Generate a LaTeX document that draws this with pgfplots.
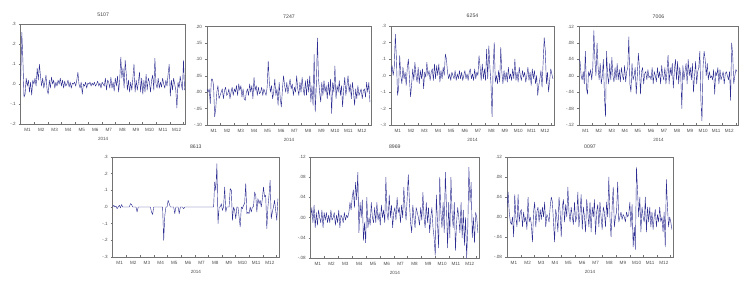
\documentclass[border=0pt]{standalone}
\usepackage{pgfplots}
\usepackage{pgfplotstable}
\pgfplotsset{compat=1.18}
\usepackage{fontspec}
\setmainfont{Liberation Sans}
\definecolor{evline}{RGB}{45,45,145}

\pgfplotstableread[row sep=\\]{y\\
0.02\\0.26\\0.12\\-0.065\\-0.05\\0.03\\-0.01\\0.02\\-0.04\\0.01\\-0.055\\0.02\\0.00\\
0.03\\-0.01\\0.08\\0.02\\0.1\\0.04\\-0.01\\0.03\\-0.02\\0.01\\0.045\\-0.03\\
-0.05\\0.02\\-0.02\\0.035\\0.00\\0.02\\-0.02\\0.01\\-0.01\\0.02\\0.0\\0.03\\-0.01\\
0.02\\-0.02\\0.015\\-0.01\\0.0\\0.02\\-0.015\\0.01\\-0.02\\0.005\\0.0\\0.01\\
-0.01\\0.02\\0.06\\0.0\\-0.02\\0.01\\-0.05\\0.0\\-0.01\\0.01\\-0.02\\0.005\\0.0\\
0.01\\-0.01\\0.005\\-0.005\\0.01\\-0.01\\0.0\\0.015\\-0.01\\0.005\\-0.02\\0.01\\
0.0\\-0.01\\0.03\\-0.03\\0.02\\0.01\\-0.02\\0.035\\-0.02\\0.01\\-0.035\\0.03\\-0.01\\
0.04\\-0.04\\0.02\\0.135\\0.03\\0.08\\-0.02\\0.12\\0.05\\-0.03\\0.02\\-0.04\\
0.01\\-0.03\\0.03\\0.1\\-0.04\\0.02\\-0.03\\0.01\\0.06\\-0.04\\0.03\\-0.05\\0.02\\
-0.04\\0.05\\-0.03\\0.03\\0.01\\-0.04\\0.02\\0.045\\-0.03\\0.13\\0.0\\-0.02\\
0.03\\-0.02\\0.01\\-0.015\\0.03\\0.0\\-0.02\\0.02\\-0.01\\0.05\\0.1\\-0.06\\0.02\\
-0.03\\0.03\\0.0\\-0.03\\-0.12\\0.01\\-0.02\\0.04\\0.0\\-0.03\\0.12\\-0.03\\
}\tA

\pgfplotstableread[row sep=\\]{y\\
0.01\\0.0\\0.01\\-0.035\\0.04\\0.04\\0.02\\-0.075\\-0.05\\0.0\\0.02\\-0.02\\-0.01\\
0.0\\0.01\\-0.02\\0.005\\0.015\\-0.01\\-0.005\\0.01\\-0.02\\0.0\\0.015\\-0.01\\
0.01\\0.0\\0.02\\-0.01\\0.025\\0.005\\0.02\\-0.015\\0.01\\-0.02\\-0.025\\0.0\\0.01\\
-0.01\\0.025\\0.0\\0.02\\-0.02\\0.045\\0.005\\0.02\\-0.01\\0.015\\-0.005\\0.0\\
0.015\\-0.01\\0.01\\0.0\\-0.01\\0.015\\0.095\\0.03\\0.0\\0.02\\-0.02\\0.0\\0.04\\
-0.01\\0.01\\-0.04\\0.03\\-0.02\\-0.045\\0.01\\0.05\\0.02\\0.0\\0.03\\-0.005\\
0.02\\0.04\\0.01\\0.025\\-0.01\\0.015\\0.0\\0.05\\0.01\\-0.01\\0.03\\0.0\\0.045\\
0.01\\-0.01\\0.035\\-0.01\\0.04\\0.0\\0.05\\-0.03\\0.02\\-0.04\\0.115\\-0.06\\
0.02\\0.165\\0.04\\0.0\\-0.03\\0.03\\-0.01\\0.035\\0.0\\0.02\\-0.02\\0.03\\-0.01\\
0.04\\-0.065\\0.03\\0.0\\0.08\\-0.02\\0.02\\0.0\\0.035\\-0.01\\0.02\\-0.045\\
0.01\\0.045\\-0.01\\0.02\\0.05\\0.0\\0.025\\-0.02\\0.03\\0.0\\-0.04\\0.01\\-0.02\\
0.02\\-0.01\\0.0\\0.01\\-0.02\\0.005\\0.01\\-0.015\\0.03\\0.0\\0.03\\-0.03\\
}\tB

\pgfplotstableread[row sep=\\]{y\\
0.02\\0.06\\0.0\\0.05\\0.25\\0.1\\-0.12\\-0.08\\0.12\\0.0\\-0.05\\0.05\\-0.02\\
0.02\\-0.06\\0.05\\0.1\\-0.02\\-0.13\\-0.05\\0.04\\-0.03\\0.08\\0.0\\-0.04\\
0.05\\-0.05\\0.03\\-0.02\\0.04\\-0.08\\0.02\\-0.01\\0.08\\0.0\\0.03\\-0.03\\0.02\\
0.04\\-0.03\\0.07\\-0.02\\0.06\\0.0\\0.07\\-0.04\\0.03\\-0.02\\0.05\\0.0\\
0.13\\0.1\\0.02\\-0.02\\0.01\\-0.03\\0.02\\0.0\\-0.02\\0.03\\-0.03\\0.01\\-0.02\\
0.03\\-0.02\\0.02\\-0.03\\0.0\\0.03\\-0.02\\0.01\\-0.03\\0.02\\0.04\\-0.02\\
0.01\\-0.03\\0.04\\-0.02\\0.02\\0.0\\0.12\\0.05\\-0.03\\0.07\\-0.02\\0.04\\-0.03\\
0.16\\-0.02\\0.18\\0.05\\-0.05\\-0.25\\0.05\\0.2\\-0.04\\0.0\\-0.05\\0.03\\
-0.04\\0.17\\0.02\\-0.05\\0.03\\-0.03\\0.02\\-0.04\\0.05\\-0.02\\0.01\\-0.03\\0.04\\
-0.02\\0.1\\-0.03\\0.02\\-0.04\\0.05\\0.0\\-0.03\\0.03\\-0.01\\0.02\\-0.04\\
0.0\\0.05\\-0.03\\0.02\\-0.06\\0.04\\-0.02\\0.03\\-0.05\\0.0\\-0.12\\-0.06\\-0.02\\
0.03\\-0.07\\0.08\\0.23\\0.15\\-0.05\\0.02\\-0.1\\-0.03\\0.04\\0.01\\-0.02\\
}\tC

\pgfplotstableread[row sep=\\]{y\\
0.04\\0.035\\0.0\\-0.01\\0.01\\-0.02\\0.06\\-0.03\\-0.045\\0.01\\0.0\\0.015\\-0.01\\
0.02\\0.11\\0.04\\0.0\\0.08\\0.02\\-0.01\\0.03\\-0.02\\0.0\\0.04\\-0.05\\
-0.1\\0.06\\0.0\\-0.02\\0.03\\-0.01\\0.045\\0.0\\-0.015\\0.02\\-0.01\\0.03\\-0.01\\
0.015\\-0.015\\0.02\\0.0\\-0.01\\0.025\\-0.015\\0.01\\0.02\\0.095\\-0.02\\-0.04\\
0.03\\-0.01\\0.0\\0.02\\-0.045\\0.0\\0.055\\0.02\\-0.045\\0.01\\0.02\\-0.02\\0.005\\
0.01\\-0.01\\0.015\\-0.005\\0.0\\-0.01\\0.02\\-0.02\\0.01\\0.0\\-0.015\\0.02\\
-0.005\\0.01\\-0.02\\0.025\\0.0\\-0.01\\0.02\\-0.02\\0.01\\0.05\\-0.02\\0.02\\0.0\\
0.03\\-0.03\\0.015\\0.04\\-0.01\\0.035\\-0.02\\0.02\\0.0\\-0.08\\0.025\\-0.01\\
0.01\\0.03\\-0.02\\0.04\\0.0\\0.02\\-0.01\\0.03\\-0.04\\0.0\\0.035\\-0.02\\0.01\\
0.02\\0.06\\-0.06\\-0.11\\0.02\\0.06\\0.04\\0.0\\0.03\\-0.01\\0.01\\-0.005\\
0.0\\-0.01\\0.015\\-0.045\\0.01\\0.0\\0.02\\-0.02\\0.015\\-0.01\\0.0\\0.01\\-0.02\\
0.005\\0.01\\0.0\\-0.01\\0.01\\-0.06\\0.08\\0.05\\-0.02\\0.0\\0.015\\0.01\\
}\tD

\pgfplotstableread[row sep=\\]{y\\
0.0\\0.01\\0.0\\0.005\\-0.01\\0.0\\0.01\\-0.005\\0.015\\0.0\\0.0\\0.0\\0.0\\
0.0\\0.0\\0.0\\0.02\\0.015\\0.0\\0.0\\0.0\\0.0\\-0.03\\0.0\\0.0\\
0.0\\0.0\\0.0\\0.0\\0.0\\0.0\\0.0\\0.0\\0.0\\0.0\\-0.03\\-0.045\\0.0\\
0.0\\0.0\\0.0\\0.0\\0.0\\0.0\\0.0\\0.0\\-0.2\\-0.05\\0.0\\0.0\\
0.04\\0.02\\0.0\\0.0\\0.0\\0.0\\-0.04\\0.0\\0.0\\0.0\\-0.04\\0.0\\0.0\\
0.0\\-0.01\\0.0\\0.0\\0.0\\0.0\\0.0\\0.0\\0.0\\0.0\\0.0\\0.0\\
0.0\\0.0\\0.0\\0.0\\0.0\\0.0\\0.0\\0.0\\0.0\\0.0\\0.0\\0.0\\0.0\\
0.0\\0.0\\0.0\\0.0\\0.15\\0.1\\0.26\\-0.1\\0.0\\0.0\\0.02\\-0.02\\
0.0\\0.12\\-0.03\\0.0\\0.0\\0.0\\0.11\\0.1\\-0.08\\0.0\\-0.02\\-0.07\\0.0\\
0.0\\-0.06\\-0.12\\0.0\\-0.01\\0.01\\0.02\\0.14\\-0.04\\-0.03\\-0.04\\0.0\\
-0.03\\0.0\\0.0\\0.09\\0.07\\-0.03\\0.05\\0.02\\0.04\\0.0\\0.05\\0.12\\0.06\\
0.07\\-0.13\\0.0\\0.07\\0.16\\-0.07\\-0.03\\0.0\\0.04\\-0.02\\-0.08\\0.05\\
}\tE

\pgfplotstableread[row sep=\\]{y\\
0.0\\0.02\\-0.01\\0.025\\-0.02\\0.01\\-0.015\\0.015\\0.0\\-0.01\\0.015\\-0.02\\0.01\\
-0.005\\0.01\\-0.01\\0.005\\-0.01\\0.015\\-0.005\\0.0\\0.01\\-0.015\\0.005\\-0.01\\
0.015\\-0.02\\0.005\\0.0\\-0.01\\0.01\\-0.005\\0.005\\0.0\\0.01\\0.03\\0.015\\0.04\\
0.055\\0.02\\0.07\\0.035\\0.09\\-0.03\\0.03\\0.0\\0.035\\-0.045\\-0.01\\-0.05\\
0.04\\-0.02\\0.0\\-0.015\\0.03\\0.0\\-0.01\\0.02\\-0.01\\0.03\\-0.005\\0.01\\-0.015\\
0.025\\0.0\\0.015\\-0.01\\0.08\\0.01\\-0.005\\0.045\\0.0\\0.025\\-0.02\\0.01\\
0.02\\-0.005\\0.04\\0.01\\0.02\\-0.01\\0.025\\0.0\\0.06\\0.02\\-0.005\\0.04\\0.085\\
0.03\\-0.01\\-0.03\\0.025\\0.0\\-0.02\\0.02\\0.01\\0.0\\-0.015\\0.02\\-0.005\\
0.05\\0.0\\-0.02\\0.03\\-0.01\\0.02\\-0.03\\0.0\\0.02\\-0.02\\-0.04\\-0.075\\0.045\\
-0.01\\-0.06\\0.08\\0.01\\-0.02\\0.03\\-0.03\\0.09\\0.02\\-0.06\\0.03\\-0.04\\
0.08\\0.01\\-0.02\\0.03\\-0.065\\-0.01\\0.02\\0.0\\-0.03\\0.03\\-0.04\\0.015\\-0.055\\
0.0\\-0.08\\-0.02\\0.1\\0.03\\0.07\\-0.04\\0.0\\-0.05\\0.01\\0.0\\-0.03\\
}\tF

\pgfplotstableread[row sep=\\]{y\\
0.02\\0.05\\0.01\\-0.01\\-0.015\\0.0\\-0.04\\0.045\\0.0\\-0.02\\0.045\\-0.01\\0.01\\
0.015\\-0.02\\0.01\\-0.01\\0.0\\-0.025\\0.04\\-0.01\\0.0\\-0.015\\-0.05\\0.01\\
0.03\\-0.02\\0.01\\0.02\\-0.01\\0.015\\-0.005\\0.02\\0.0\\0.03\\-0.02\\0.005\\0.0\\
-0.01\\0.02\\0.04\\0.03\\-0.01\\-0.05\\0.015\\0.0\\-0.03\\0.04\\0.01\\-0.04\\
0.02\\0.035\\-0.01\\0.025\\0.0\\0.06\\0.01\\-0.01\\0.02\\0.0\\-0.015\\0.03\\-0.01\\
0.0\\0.05\\-0.02\\0.01\\0.045\\-0.025\\0.02\\0.0\\-0.03\\0.035\\0.01\\-0.02\\
0.03\\-0.03\\0.02\\0.0\\0.035\\-0.035\\0.01\\0.025\\-0.02\\0.03\\0.0\\-0.025\\0.02\\
0.01\\-0.02\\0.03\\0.0\\0.08\\0.0\\-0.04\\0.02\\0.06\\-0.02\\0.0\\0.01\\
0.07\\-0.01\\0.0\\0.01\\-0.005\\0.005\\0.0\\-0.01\\0.01\\0.0\\0.005\\0.03\\-0.02\\
0.025\\-0.06\\-0.02\\-0.065\\0.1\\0.05\\0.0\\0.04\\-0.03\\0.02\\0.0\\-0.01\\
0.04\\-0.03\\0.02\\-0.01\\0.02\\-0.02\\0.01\\-0.025\\0.0\\0.015\\-0.02\\0.005\\-0.01\\
0.02\\-0.01\\0.0\\-0.03\\0.01\\-0.06\\0.075\\0.02\\-0.02\\0.0\\-0.01\\-0.025\\
}\tG

\pgfplotsset{
  ev/.style={
    scale only axis,
    axis line style={black!55, line width=0.5bp},
    xmin=0, xmax=12,
    xtick={0.5,1.49,2.47,3.46,4.44,5.43,6.41,7.4,8.38,9.37,10.35,11.34},
    xticklabels={M1,M2,M3,M4,M5,M6,M7,M8,M9,M10,M11,M12},
    minor xtick={0.99,1.98,2.96,3.95,4.93,5.92,6.9,7.89,8.87,9.86,10.84,11.83},
    major x tick style={draw=none},
    minor x tick style={black!55, line width=0.4bp},
    minor tick length=2bp,
    major tick length=2bp,
    tick align=inside,
    xtick pos=bottom, ytick pos=left,
    y tick style={black!55, line width=0.4bp, xshift=-2bp},
    ticklabel style={font=\fontsize{4.6}{5}\selectfont, text=black!70},
    xticklabel style={yshift=-1bp},
    yticklabel style={xshift=-1.5bp},
    xlabel={2014},
    xlabel style={font=\fontsize{4.6}{5}\selectfont, text=black!70, at={(axis description cs:0.5,0)}, anchor=north, yshift=-13bp, inner sep=0pt},
    title style={font=\fontsize{5.2}{6}\selectfont, text=black!75, at={(axis description cs:0.5,1)}, anchor=south, yshift=2bp, inner sep=0pt},
    clip=true,
  },
  evplot/.style={evline, line width=0.42bp, no markers, line join=round},
}

\begin{document}
\begin{tikzpicture}
\useasboundingbox (0bp,0bp) rectangle (748bp,-283bp);

\begin{axis}[ev, at={(20.7bp,-24.3bp)}, anchor=north west, width=165bp, height=99.7bp,
  title={5107}, ymin=-0.2, ymax=0.3, ytick={-0.2,-0.1,0,0.1,0.2,0.3},
  yticklabels={-.2,-.1,.0,.1,.2,.3}]
\addplot[evplot] table[x expr=\coordindex*0.08, y=y] {\tA};
\end{axis}

\begin{axis}[ev, at={(207bp,-26.5bp)}, anchor=north west, width=164bp, height=98.5bp,
  title={7247}, ymin=-0.1, ymax=0.2, ytick={-0.1,-0.05,0,0.05,0.1,0.15,0.2},
  yticklabels={-.10,-.05,.00,.05,.10,.15,.20}]
\addplot[evplot] table[x expr=\coordindex*0.08, y=y] {\tB};
\end{axis}

\begin{axis}[ev, at={(391bp,-26bp)}, anchor=north west, width=163bp, height=99bp,
  title={6254}, ymin=-0.3, ymax=0.3, ytick={-0.3,-0.2,-0.1,0,0.1,0.2,0.3},
  yticklabels={-.3,-.2,-.1,.0,.1,.2,.3}]
\addplot[evplot] table[x expr=\coordindex*0.08, y=y] {\tC};
\end{axis}

\begin{axis}[ev, at={(579bp,-26.5bp)}, anchor=north west, width=159bp, height=98.5bp,
  title={7006}, ymin=-0.12, ymax=0.12, ytick={-0.12,-0.08,-0.04,0,0.04,0.08,0.12},
  yticklabels={-.12,-.08,-.04,.00,.04,.08,.12}]
\addplot[evplot] table[x expr=\coordindex*0.08, y=y] {\tD};
\end{axis}

\begin{axis}[ev, at={(112.7bp,-157bp)}, anchor=north west, width=166.3bp, height=100bp,
  title={8613}, ymin=-0.3, ymax=0.3, ytick={-0.3,-0.2,-0.1,0,0.1,0.2,0.3},
  yticklabels={-.3,-.2,-.1,.0,.1,.2,.3}]
\addplot[evplot] table[x expr=\coordindex*0.08, y=y] {\tE};
\end{axis}

\begin{axis}[ev, at={(310.7bp,-157bp)}, anchor=north west, width=168.3bp, height=101bp,
  title={8969}, ymin=-0.08, ymax=0.12, ytick={-0.08,-0.04,0,0.04,0.08,0.12},
  yticklabels={-.08,-.04,.00,.04,.08,.12}]
\addplot[evplot] table[x expr=\coordindex*0.08, y=y] {\tF};
\end{axis}

\begin{axis}[ev, at={(507bp,-157bp)}, anchor=north west, width=166bp, height=100bp,
  title={0097}, ymin=-0.08, ymax=0.12, ytick={-0.08,-0.04,0,0.04,0.08,0.12},
  yticklabels={-.08,-.04,.00,.04,.08,.12}]
\addplot[evplot] table[x expr=\coordindex*0.08, y=y] {\tG};
\end{axis}
\end{tikzpicture}
\end{document}
